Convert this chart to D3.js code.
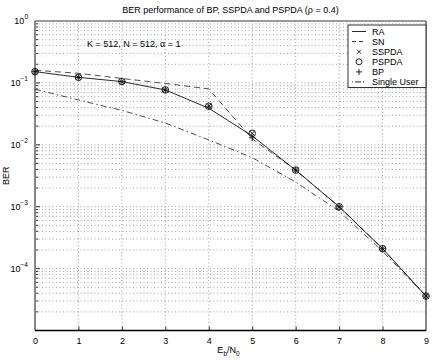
<!DOCTYPE html>
<html>
<head>
<meta charset="utf-8">
<script src="https://cdn.jsdelivr.net/npm/d3@7"></script>
<style>
  body { margin: 0; background: #fff; }
  text { font-family: "Liberation Sans", Arial, Helvetica, sans-serif; fill: #000; }
</style>
</head>
<body>
<div id="chart"></div>
<script>
// values
const ebn0 = [0, 1, 2, 3, 4, 5, 6, 7, 8, 9];
const ra = [0.152, 0.123, 0.105, 0.077, 0.039, 0.0139, 0.0039, 0.00100, 0.00021, 0.000036];
const sn = [0.16, 0.143, 0.118, 0.098, 0.080, 0.0125, 0.0039, 0.00100, 0.00021, 0.000036];
const sspda = [0.152, 0.123, 0.105, 0.077, 0.042, 0.0153, 0.0039, 0.00100, 0.00021, 0.000036];
const pspda = [0.152, 0.123, 0.105, 0.077, 0.042, 0.0153, 0.0039, 0.00100, 0.00021, 0.000036];
const bp = [0.152, 0.123, 0.105, 0.077, 0.041, 0.0130, 0.0039, 0.00100, 0.00021, 0.000036];
const singleUser = [0.079, 0.053, 0.036, 0.0225, 0.012, 0.0062, 0.0025, 0.00085, 0.00019, 0.000036];
const yDecades = [0, -1, -2, -3, -4];
const legendNames = ["RA", "SN", "SSPDA", "PSPDA", "BP", "Single User"];

const W = 436, H = 360;
const margin = {top: 21, right: 10, bottom: 29.5, left: 35};
const width = W - margin.left - margin.right,
      height = H - margin.top - margin.bottom;

const svg = d3.select("#chart").append("svg")
    .attr("width", W)
    .attr("height", H)
  .append("g")
    .attr("transform", `translate(${margin.left},${margin.top})`);

const x = d3.scaleLinear().domain([0, 9]).range([0, width]);
const y = d3.scaleLog().domain([1e-5, 1]).range([height, 0]);

// grid: minor log lines and majors, dotted
const minors = [];
for (let e = -5; e < 0; e++) {
  for (let m = 1; m < 10; m++) minors.push(m * Math.pow(10, e));
}
svg.append("g").selectAll("line")
  .data(minors.filter(v => v > 1e-5))
  .join("line")
    .attr("x1", 0).attr("x2", width)
    .attr("y1", d => y(d)).attr("y2", d => y(d))
    .attr("stroke", "#8c8c8c")
    .attr("stroke-width", 0.8)
    .attr("stroke-dasharray", "1,2.5");

svg.append("g").selectAll("line")
  .data(ebn0.slice(1, -1))
  .join("line")
    .attr("x1", d => x(d)).attr("x2", d => x(d))
    .attr("y1", 0).attr("y2", height)
    .attr("stroke", "#8c8c8c")
    .attr("stroke-width", 0.8)
    .attr("stroke-dasharray", "1,2.5");

// minor ticks on y axis
svg.append("g").selectAll("line")
  .data(minors.filter(v => v > 1e-5))
  .join("line")
    .attr("x1", 0).attr("x2", d => Number.isInteger(Math.log10(d)) ? 5 : 3)
    .attr("y1", d => y(d)).attr("y2", d => y(d))
    .attr("stroke", "#333");

// x axis ticks and labels
svg.append("g")
    .attr("transform", `translate(0,${height})`)
    .call(d3.axisBottom(x).tickValues(ebn0).tickSize(-4).tickPadding(7).tickFormat(d3.format("d")))
    .call(g => g.select(".domain").remove())
    .call(g => g.selectAll("line").attr("stroke", "#333"))
    .call(g => g.selectAll("text").style("font-size", "9px").style("font-family", "Liberation Sans, Arial, sans-serif"));

// y axis labels 10^n
const yl = svg.append("g");
yDecades.forEach(e => {
  const t = yl.append("text")
    .attr("x", -7)
    .attr("y", y(Math.pow(10, e)) + 3)
    .attr("text-anchor", "end")
    .style("font-size", "9px");
  t.append("tspan").text("10");
  t.append("tspan").attr("dy", -5).style("font-size", "6.5px").text(e === 0 ? "0" : "\u2212" + (-e));
});

// axes box
svg.append("line").attr("x1", 0).attr("x2", 0).attr("y1", 0).attr("y2", height)
  .attr("stroke", "#888").attr("stroke-width", 2);
svg.append("line").attr("x1", width).attr("x2", width).attr("y1", 0).attr("y2", height)
  .attr("stroke", "#888").attr("stroke-width", 2);
svg.append("line").attr("x1", 0).attr("x2", width).attr("y1", 0).attr("y2", 0)
  .attr("stroke", "#777").attr("stroke-width", 1.5);
svg.append("line").attr("x1", 0).attr("x2", width).attr("y1", height).attr("y2", height)
  .attr("stroke", "#000").attr("stroke-width", 1.5);

// lines
const line = d3.line().x((d, i) => x(ebn0[i])).y(d => y(d));

svg.append("path").datum(singleUser)
    .attr("fill", "none").attr("stroke", "#222").attr("stroke-width", 0.8)
    .attr("stroke-dasharray", "6,3,1.5,3")
    .attr("d", line);
svg.append("path").datum(sn)
    .attr("fill", "none").attr("stroke", "#222").attr("stroke-width", 0.8)
    .attr("stroke-dasharray", "6,4")
    .attr("d", line);
svg.append("path").datum(ra)
    .attr("fill", "none").attr("stroke", "#111").attr("stroke-width", 0.9)
    .attr("d", line);

// markers
const r = 3.3;
svg.append("g").selectAll("path")
  .data(sspda)
  .join("path")
    .attr("transform", (d, i) => `translate(${x(ebn0[i])},${y(d)})`)
    .attr("d", `M${-r*0.75},${-r*0.75}L${r*0.75},${r*0.75}M${-r*0.75},${r*0.75}L${r*0.75},${-r*0.75}`)
    .attr("stroke", "#111").attr("stroke-width", 0.9);
svg.append("g").selectAll("circle")
  .data(pspda)
  .join("circle")
    .attr("cx", (d, i) => x(ebn0[i]))
    .attr("cy", d => y(d))
    .attr("r", r)
    .attr("fill", "none").attr("stroke", "#111").attr("stroke-width", 0.9);
svg.append("g").selectAll("path")
  .data(bp)
  .join("path")
    .attr("transform", (d, i) => `translate(${x(ebn0[i])},${y(d)})`)
    .attr("d", `M${-r},0L${r},0M0,${-r}L0,${r}`)
    .attr("stroke", "#111").attr("stroke-width", 0.9);

// title
svg.append("text")
    .attr("x", width / 2)
    .attr("y", -8)
    .attr("text-anchor", "middle")
    .style("font-size", "9px")
    .text("BER performance of BP, SSPDA and PSPDA (\u03C1 = 0.4)");

svg.append("text")
    .attr("x", 52)
    .attr("y", 26)
    .style("font-size", "9px")
    .text("K = 512, N = 512, \u03B1 = 1");

// axis labels
const xl = svg.append("text")
    .attr("x", width / 2 - 2)
    .attr("y", height + 22)
    .attr("text-anchor", "middle")
    .style("font-size", "9px");
xl.append("tspan").text("E");
xl.append("tspan").attr("dy", 3).style("font-size", "6.5px").text("b");
xl.append("tspan").attr("dy", -3).text("/N");
xl.append("tspan").attr("dy", 3).style("font-size", "6.5px").text("0");

svg.append("text")
    .attr("transform", `translate(${-26},${y(Math.pow(10, -2.5))}) rotate(-90)`)
    .attr("text-anchor", "middle")
    .style("font-size", "9px")
    .text("BER");

// legend
const lg = svg.append("g").attr("transform", `translate(${313},${4})`);
lg.append("rect")
    .attr("width", width - 313)
    .attr("height", 62.5)
    .attr("fill", "#fff")
    .attr("stroke", "#333")
    .attr("stroke-width", 1);
legendNames.forEach((name, i) => {
  const ly = 6.5 + i * 10.1;
  const g = lg.append("g").attr("transform", `translate(0,${ly})`);
  if (name === "RA") {
    g.append("line").attr("x1", 4).attr("x2", 18).attr("stroke", "#111").attr("stroke-width", 0.9);
  } else if (name === "SN") {
    g.append("line").attr("x1", 4).attr("x2", 18).attr("stroke", "#111").attr("stroke-width", 0.9).attr("stroke-dasharray", "4,3");
  } else if (name === "Single User") {
    g.append("line").attr("x1", 4).attr("x2", 18).attr("stroke", "#111").attr("stroke-width", 0.9).attr("stroke-dasharray", "1,2,6,2");
  } else if (name === "SSPDA") {
    g.append("path").attr("transform", "translate(11,0)")
      .attr("d", "M-2,-2L2,2M-2,2L2,-2").attr("stroke", "#111").attr("stroke-width", 0.9);
  } else if (name === "PSPDA") {
    g.append("circle").attr("cx", 11).attr("r", 3).attr("fill", "none").attr("stroke", "#111").attr("stroke-width", 0.9);
  } else if (name === "BP") {
    g.append("path").attr("transform", "translate(11,0)")
      .attr("d", "M-3,0L3,0M0,-3L0,3").attr("stroke", "#111").attr("stroke-width", 0.9);
  }
  g.append("text").attr("x", 24).attr("y", 3.2).style("font-size", "9px").text(name);
});
</script>
</body>
</html>
